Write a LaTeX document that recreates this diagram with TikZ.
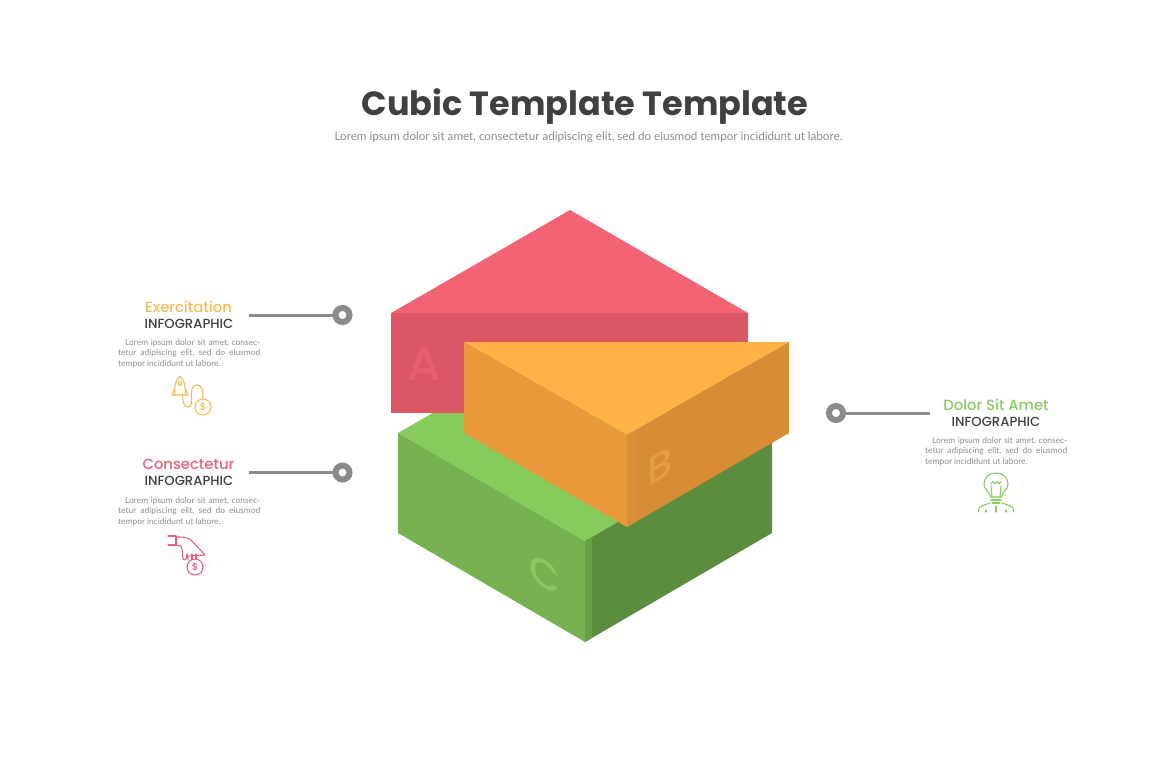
\documentclass[tikz,border=0pt]{standalone}
\usepackage{fontspec}
\setmainfont{Lato}
\newfontfamily\headfont{Poppins}
\newfontfamily\headmed{Poppins Medium}
\newcommand{\bodyblock}{\vbox{\hbox to 142pt{\hspace{7pt}Lorem ipsum dolor sit amet, consec-}\hbox to 142pt{tetur adipiscing elit, sed do eiusmod}\hbox to 142pt{tempor incididunt ut labore.\hfil}}}
\definecolor{ringgray}{HTML}{8A8A8A}
\definecolor{txtgray}{HTML}{8C8C8C}
\definecolor{dark}{HTML}{404040}
\definecolor{cyellow}{HTML}{F5BC55}
\definecolor{cred}{HTML}{E9627A}
\definecolor{cgreen}{HTML}{8CCB62}
\definecolor{redtop}{HTML}{F26473}
\definecolor{redfront}{HTML}{DC5766}
\definecolor{redletter}{HTML}{E55F71}
\definecolor{ortop}{HTML}{FFB347}
\definecolor{orleft}{HTML}{E89A3A}
\definecolor{orright}{HTML}{D78D35}
\definecolor{orstrip}{HTML}{DA8E35}
\definecolor{orletter}{HTML}{E29E42}
\definecolor{grtop}{HTML}{86CC5C}
\definecolor{grleft}{HTML}{76B250}
\definecolor{grright}{HTML}{5C8C3E}
\definecolor{grstrip}{HTML}{66A046}
\definecolor{grletter}{HTML}{88C762}
\tikzset{
  x=1pt,y=-1pt,
  ring/.style={circle,draw=ringgray,line width=6pt,fill=white,minimum size=14pt,inner sep=0pt,outer sep=0pt},
  lead/.style={draw=ringgray,line width=3pt},
  heading/.style={font=\headmed\fontsize{14.8}{16}\selectfont,anchor=center,inner sep=0pt},
  subhead/.style={font=\headmed\fontsize{13.2}{15}\selectfont,text=dark,anchor=center,inner sep=0pt},
  blurb/.style={font=\fontsize{8.4}{10.6}\selectfont,text=txtgray,anchor=north west,inner sep=0pt},
  icon/.style={line width=1.1pt,line cap=round,line join=round},
  letter/.style={font=\headmed\fontsize{48}{48}\selectfont,inner sep=0pt},
  sletter/.style={font=\headmed\fontsize{40}{40}\selectfont,inner sep=0pt}
}
\begin{document}
\begin{tikzpicture}
\useasboundingbox (0,0) rectangle (1170,780);
\fill[white] (0,0) rectangle (1170,780);
% title
\node[font=\headfont\bfseries\fontsize{33.5}{38}\selectfont,text=dark,inner sep=0pt] (title) at (585,106.5) {Cubic Template Template};
\node[font=\fontsize{11.65}{15}\selectfont,text=txtgray,inner sep=0pt] (subtitle) at (588.5,137.3) {Lorem ipsum dolor sit amet, consectetur adipiscing elit, sed do eiusmod tempor incididunt ut labore.};
% green block
\fill[grtop] (398,433) -- (585,325) -- (772,433) -- (585,541) -- cycle;
\fill[grleft] (398,433) -- (585,541) -- (585,642) -- (398,533) -- cycle;
\fill[grright] (585,541) -- (772,433) -- (772,533) -- (585,642) -- cycle;
\fill[grstrip] (585,541) -- (592,537) -- (592,638) -- (585,642) -- cycle;
\node[sletter,text=grletter,yslant=-0.58] (letterC) at (545,574) {C};
% red block
\fill[redtop] (391,313) -- (570,210) -- (748,313) -- cycle;
\fill[redfront] (391,313) rectangle (748,413);
\node[letter,text=redletter] (letterA) at (424,364) {A};
% orange block
\fill[ortop] (464,342) -- (789,342) -- (627,435) -- cycle;
\fill[orleft] (464,342) -- (627,435) -- (627,527) -- (464,433) -- cycle;
\fill[orright] (627,435) -- (789,342) -- (789,433) -- (627,527) -- cycle;
\fill[orstrip] (627,435) -- (636,430) -- (636,522) -- (627,527) -- cycle;
\node[sletter,text=orletter,yslant=0.58] (letterB) at (660,466) {B};
% connectors
\node[ring] (ringA) at (342.5,315) {};
\coordinate (leadA) at (249,315);
\draw[lead] (leadA) -- (ringA);
\node[ring] (ringC) at (342.5,472.5) {};
\coordinate (leadC) at (249,472.5);
\draw[lead] (leadC) -- (ringC);
\node[ring] (ringB) at (836,413) {};
\coordinate (leadB) at (930,413);
\draw[lead] (leadB) -- (ringB);
% left top text
\node[heading,text=cyellow] (headA) at (188.5,307) {Exercitation};
\node[subhead] (subA) at (189,323.5) {INFOGRAPHIC};
\node[blurb] (bodyA) at (118,338.7) {\bodyblock};
% left bottom text
\node[heading,text=cred] (headC) at (188.5,464) {Consectetur};
\node[subhead] (subC) at (189,481) {INFOGRAPHIC};
\node[blurb] (bodyC) at (118,496.7) {\bodyblock};
% right text
\node[heading,text=cgreen] (headB) at (996,404.5) {Dolor Sit Amet};
\node[subhead] (subB) at (996,421.5) {INFOGRAPHIC};
\node[blurb] (bodyB) at (925,436.7) {\bodyblock};
% rocket icon
\begin{scope}[icon,draw=cyellow]
\draw (180,376) .. controls (175,381) and (174,387) .. (175,395) -- (185,395) .. controls (186,387) and (185,381) .. (180,376) -- cycle;
\draw (180,383.5) circle (2);
\draw (175,388) -- (172,395) -- (175,395);
\draw (185,388) -- (188,395) -- (185,395);
\draw (182.5,395) .. controls (182.5,402) and (184,407) .. (188,407) .. controls (192,407) and (191.5,403) .. (191.5,393) .. controls (191.5,387) and (194,385) .. (197,385) .. controls (201,385) and (203,388) .. (203,399);
\draw (203,407) circle (8);
\node[font=\headmed\fontsize{10}{10}\selectfont,text=cyellow,inner sep=0pt] (dollarA) at (203,407) {\$};
\end{scope}
% hand icon
\begin{scope}[icon,draw=cred]
\draw (168,536) -- (176,536) -- (176,545) -- (168,545);
\draw (176,537) .. controls (184,537) and (188,537) .. (192,541) -- (205,555) -- (188,556);
\draw (176,545) -- (181,546) .. controls (183,550) and (182,556) .. (183,559) .. controls (185,561) and (187,559) .. (187,554);
\draw (187,554) -- (188,560);
\draw (192,554) -- (192,559);
\draw (196,554) -- (196,559);
\draw (195,567) circle (8);
\node[font=\headmed\fontsize{10}{10}\selectfont,text=cred,inner sep=0pt] (dollarC) at (195,567) {\$};
\end{scope}
% bulb icon
\begin{scope}[icon,draw=cgreen]
\draw (990.5,497) .. controls (990,491) and (984,490) .. (984,484.5) .. controls (984,477.5) and (989,473) .. (996,473) .. controls (1003,473) and (1008,477.5) .. (1008,484.5) .. controls (1008,490) and (1002,491) .. (1001.5,497) -- cycle;
\draw (991,500) -- (1001,500);
\draw (992,503) -- (1000,503);
\draw (992,497) -- (991,486);
\draw (1000,497) -- (1001,486);
\draw (991,484) -- (993,481.5) -- (995,484) -- (997,481.5) -- (999,484) -- (1001,481.5);
\draw (978.5,512) -- (978.5,509) .. controls (979,506) and (985,505) .. (990,503);
\draw (1013.5,512) -- (1013.5,509) .. controls (1013,506) and (1007,505) .. (1002,503);
\draw (996,506) -- (996,512);
\draw (986,510) -- (986,512);
\draw (1006,510) -- (1006,512);
\end{scope}
\end{tikzpicture}
\end{document}
